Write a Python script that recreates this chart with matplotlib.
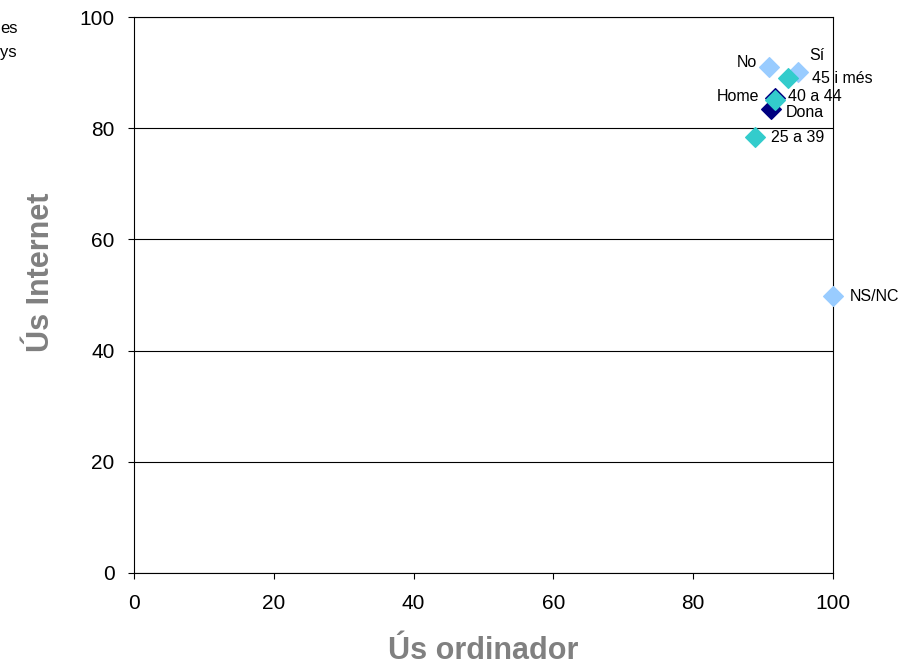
import matplotlib
matplotlib.use('Agg')
import matplotlib.pyplot as plt

plt.rcParams['font.family'] = ['Liberation Sans', 'DejaVu Sans']

# data: (label, x = ús ordinador, y = ús Internet)
labels = ['No', 'Sí', 'NS/NC', '45 i més', '40 a 44', '25 a 39', 'Home', 'Dona']
x_vals = [90.8, 95.0, 100.0, 93.6, 91.7, 88.8, 91.7, 91.1]
y_vals = [91.0, 90.1, 49.8, 89.0, 85.1, 78.4, 85.4, 83.5]
groups = ['resp', 'resp', 'resp', 'edat', 'edat', 'edat', 'sexe', 'sexe']

colors = {'resp': '#99CCFF', 'edat': '#33CCCC', 'sexe': '#000080'}
zorders = {'resp': 3, 'sexe': 4, 'edat': 5}
# label offsets in points (dx, dy, ha)
offsets = {'No': (-8.5, 3, 'right'), 'Sí': (8, 12, 'left'), 'NS/NC': (12, 0, 'left'),
           '45 i més': (17, -0.5, 'left'), '40 a 44': (9, 2.5, 'left'),
           '25 a 39': (12, 0, 'left'), 'Home': (-11, 1.5, 'right'), 'Dona': (11, -2.5, 'left')}

fig = plt.figure(figsize=(9.14, 6.70), dpi=100)
ax = fig.add_axes([0.1466, 0.1448, 0.7648, 0.8298])

for lab, x, y, g in zip(labels, x_vals, y_vals, groups):
    ec = '#000080' if lab == 'Home' else colors[g]
    ax.scatter(x, y, marker='D', s=100, color=colors[g], edgecolors=ec,
               linewidths=1.0, zorder=zorders[g], clip_on=False)
    dx, dy, ha = offsets[lab]
    ax.annotate(lab, (x, y), xytext=(dx, dy), textcoords='offset points',
                ha=ha, va='center', fontsize=11.5, zorder=6)

ax.set_xlim(0, 100)
ax.set_ylim(0, 100)
ax.set_xticks(range(0, 101, 20))
ax.set_yticks(range(0, 101, 20))
ax.tick_params(labelsize=15, direction='out', length=4)
ax.tick_params(axis='x', pad=11)
ax.tick_params(axis='y', pad=10)
ax.grid(axis='y', color='black', linewidth=0.8)
ax.set_axisbelow(True)
for sp in ax.spines.values():
    sp.set_color('black')
    sp.set_linewidth(0.8)

ax.set_xlabel('Ús ordinador', fontsize=22, fontweight='bold', color='#808080')
ax.set_ylabel('Ús Internet', fontsize=22, fontweight='bold', color='#808080')
ax.xaxis.set_label_coords(0.5, -0.113)
ax.yaxis.set_label_coords(-0.112, 0.54)

# clipped legend fragments at left edge
fig.text(0.0, 0.958, 'es', fontsize=12, va='center')
fig.text(0.0, 0.921, 'ys', fontsize=12, va='center')

fig.savefig('out.png', dpi=100)
